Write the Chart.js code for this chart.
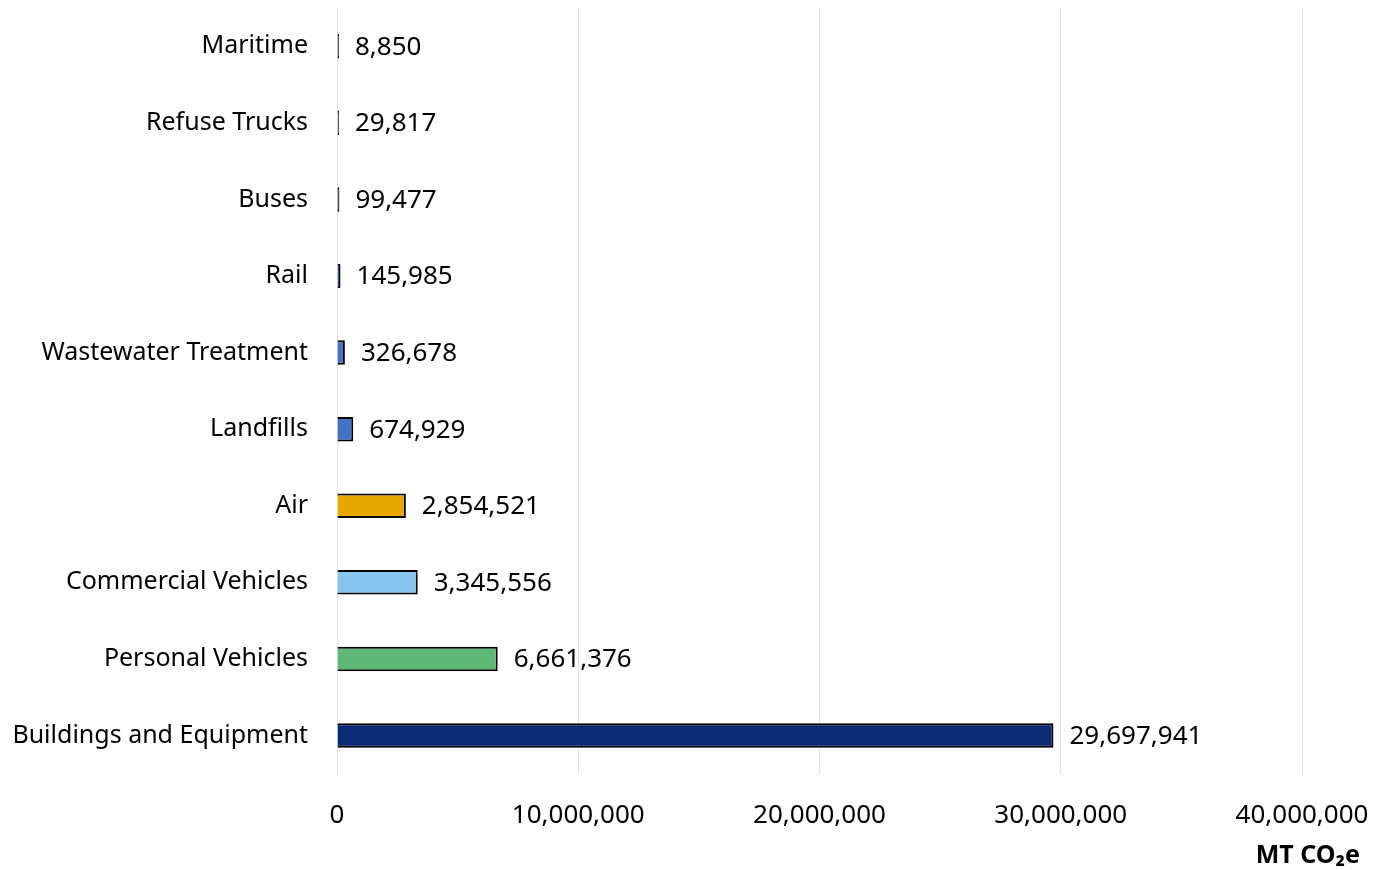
<!DOCTYPE html>
<html>
<head>
<meta charset="utf-8">
<script src="https://cdn.jsdelivr.net/npm/chart.js@4/dist/chart.umd.min.js"></script>
<style>
  html, body { margin: 0; padding: 0; background: #fff; }
  #wrap { width: 1373px; height: 870px; }
</style>
</head>
<body>
<div id="wrap"><canvas id="emissions-chart" width="1373" height="870"></canvas></div>
<script>
// categories top to bottom, as in the picture
const sectors = [
    "Maritime",
    "Refuse Trucks",
    "Buses",
    "Rail",
    "Wastewater Treatment",
    "Landfills",
    "Air",
    "Commercial Vehicles",
    "Personal Vehicles",
    "Buildings and Equipment"
];
const emissions = [8850, 29817, 99477, 145985, 326678, 674929, 2854521, 3345556, 6661376, 29697941];
const barColors = ["#8c8c8c", "#a5a5a5", "#1f1f1f", "#2f5597", "#4472c4", "#4472c4", "#e8a800", "#85c5ee", "#5cb874", "#0a2a72"];
const xTicks = [0, 10000000, 20000000, 30000000, 40000000];
const axisTitle = "MT CO\u2082e";

const fontFamily = "'Noto Sans', 'Open Sans', sans-serif";

// writes the value next to each bar, and the unit under the axis
const valueLabels = {
    id: "valueLabels",
    afterDatasetsDraw(chart) {
        const ctx = chart.ctx;
        const meta = chart.getDatasetMeta(0);
        ctx.save();
        ctx.font = "26px " + fontFamily;
        ctx.fillStyle = "#000";
        ctx.textBaseline = "middle";
        ctx.textAlign = "left";
        meta.data.forEach((bar, i) => {
            ctx.fillText(emissions[i].toLocaleString("en-US"), bar.x + 16, bar.y + 1);
        });
        ctx.font = "bold 25px " + fontFamily;
        ctx.textAlign = "right";
        ctx.fillText(axisTitle, chart.width - 13, 856);
        ctx.restore();
    }
};

new Chart(document.getElementById("emissions-chart"), {
    type: "bar",
    data: {
        labels: sectors,
        datasets: [{
            data: emissions,
            backgroundColor: barColors,
            borderColor: "#000",
            borderWidth: 2,
            minBarLength: 2,
            categoryPercentage: 1,
            barPercentage: 0.32
        }]
    },
    options: {
        indexAxis: "y",
        responsive: false,
        animation: false,
        layout: { padding: { top: 8, left: 0, right: 0, bottom: 13 } },
        plugins: {
            legend: { display: false },
            tooltip: { enabled: false }
        },
        scales: {
            x: {
                min: 0,
                max: 40000000,
                afterBuildTicks(axis) {
                    axis.ticks = xTicks.map(v => ({ value: v }));
                },
                afterFit(axis) {
                    axis.paddingRight = 71;
                    axis.paddingLeft = 0;
                },
                grid: { color: "#e3e3e3", lineWidth: 1, drawTicks: false },
                border: { display: false },
                ticks: {
                    padding: 26,
                    color: "#000",
                    font: { size: 26, family: fontFamily },
                    callback: v => v.toLocaleString("en-US")
                }
            },
            y: {
                afterFit(axis) {
                    axis.width = 337;
                    axis.paddingTop = 0;
                    axis.paddingBottom = 0;
                },
                grid: { display: false, drawTicks: false },
                border: { display: false },
                ticks: {
                    padding: 29,
                    color: "#000",
                    font: { size: 25, family: fontFamily }
                }
            }
        }
    },
    plugins: [valueLabels]
});
</script>
</body>
</html>
